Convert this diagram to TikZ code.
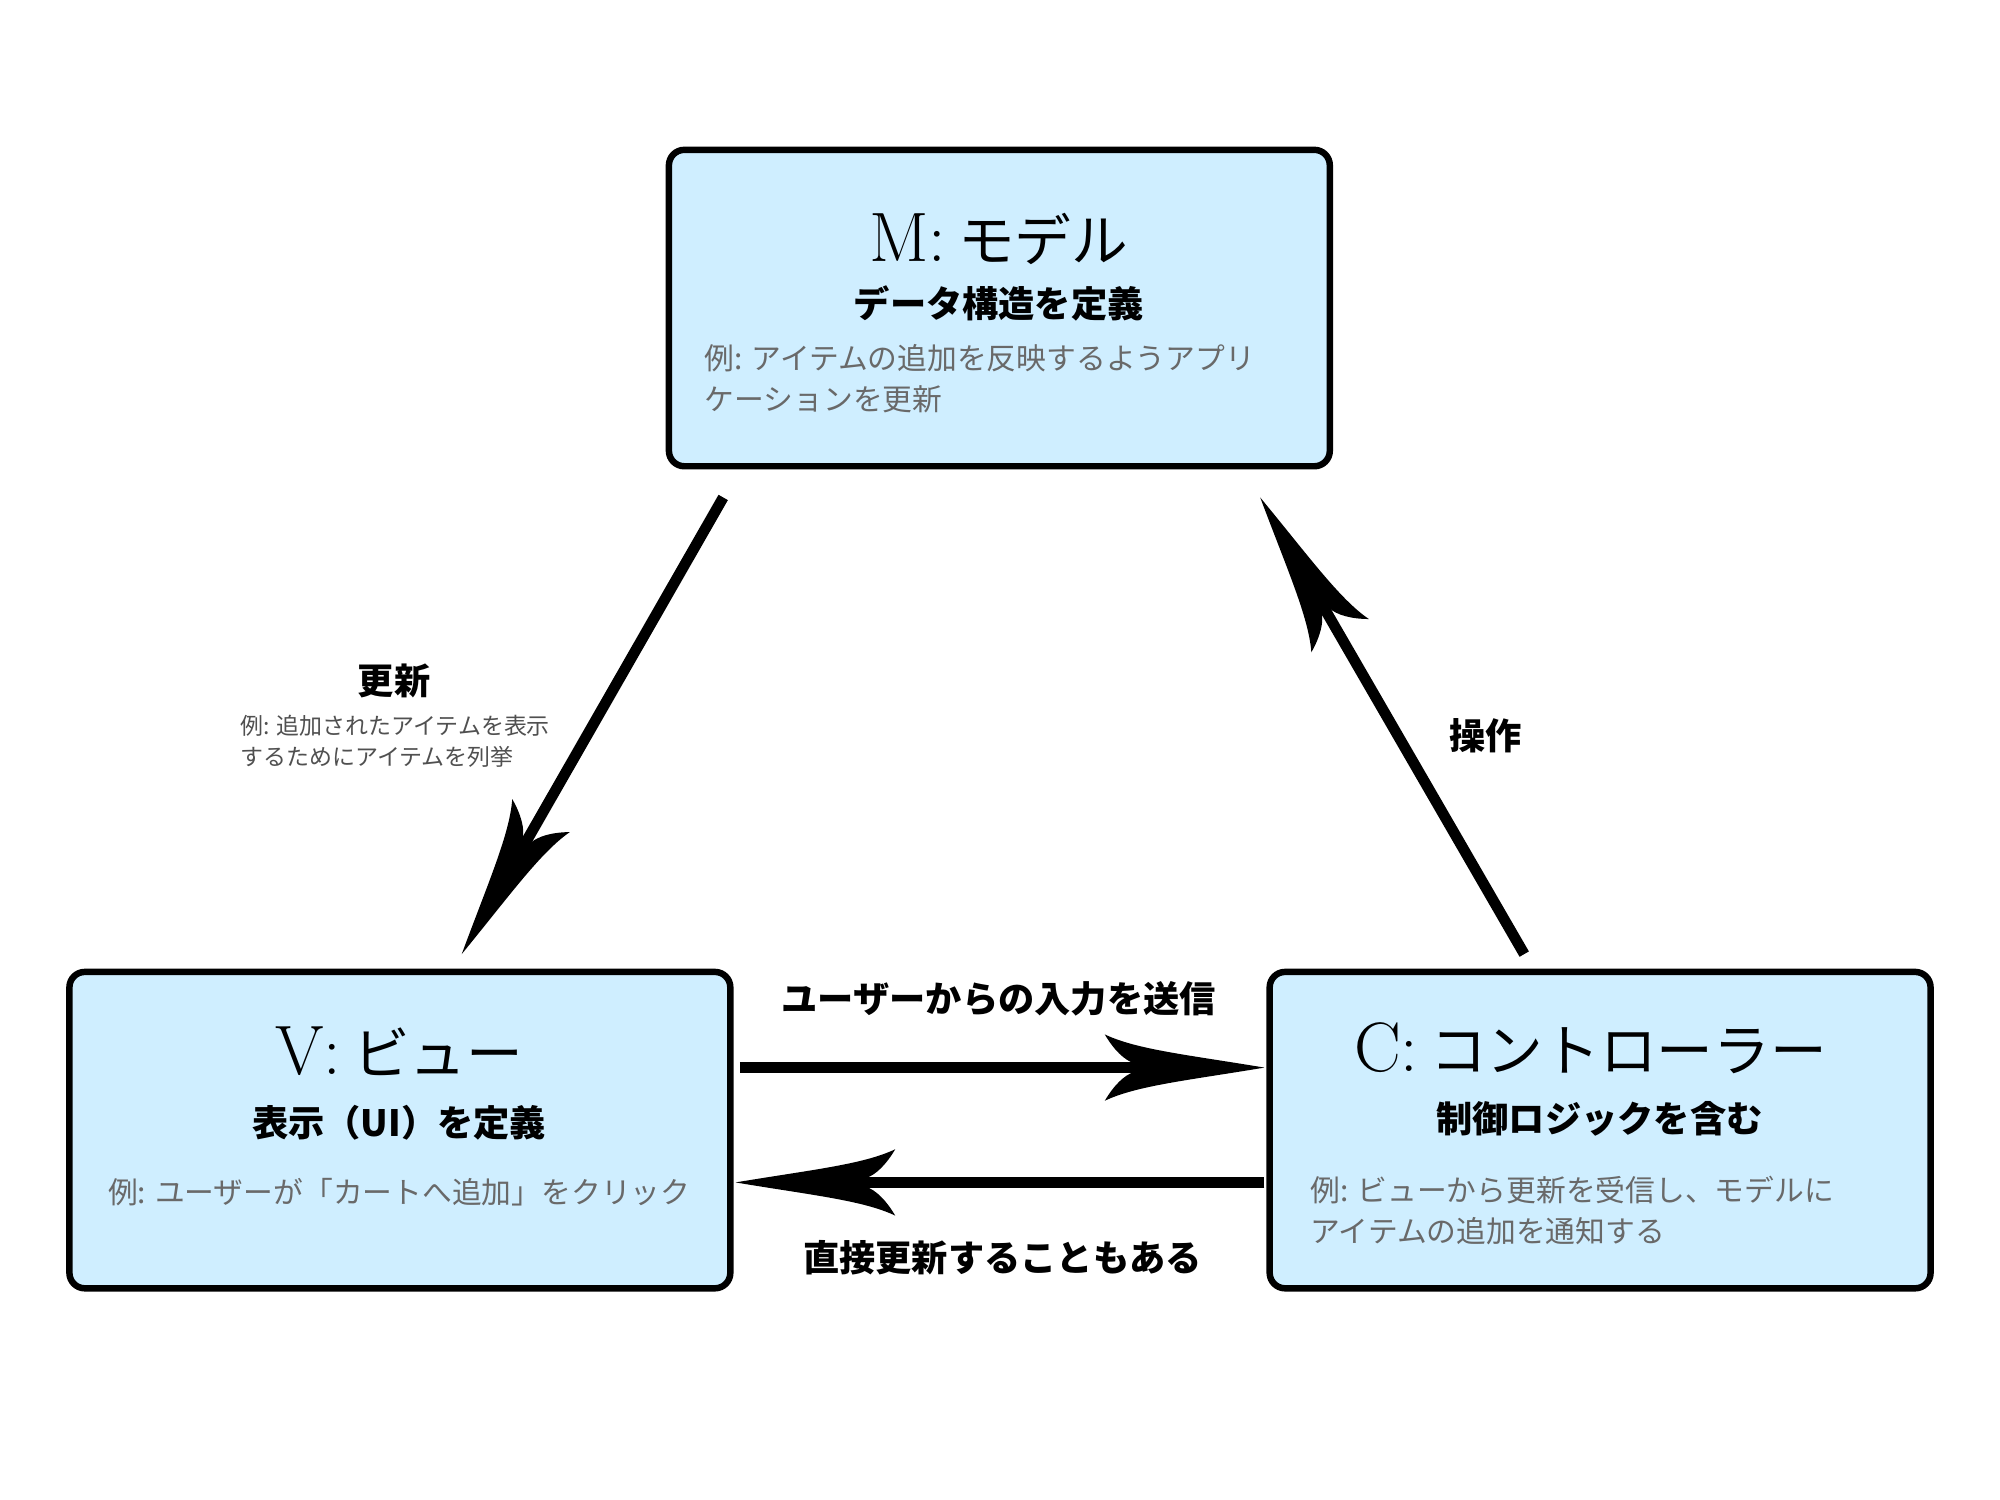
\documentclass[tikz,border=0pt]{standalone}
\usepackage{fontspec}
\newfontfamily\jp{Noto Sans CJK JP}
\usetikzlibrary{arrows.meta}
\definecolor{boxfill}{RGB}{207,238,255}
\definecolor{descgray}{RGB}{105,105,105}
\definecolor{smallgray}{RGB}{80,80,80}
\pgfdeclarearrow{
  name = MyBarb,
  setup code = {
    \pgfarrowssettipend{0pt}
    \pgfarrowssetbackend{-44.5pt}
    \pgfarrowssetlineend{-34pt}
    \pgfarrowsupperhullpoint{0pt}{0pt}
    \pgfarrowsupperhullpoint{-44.5pt}{9.25pt}
  },
  drawing code = {
    \pgfpathmoveto{\pgfpoint{0pt}{0pt}}
    \pgfpathcurveto{\pgfpoint{-21.3pt}{3.56pt}}{\pgfpoint{-35.6pt}{5pt}}{\pgfpoint{-44.5pt}{9.25pt}}
    \pgfpathcurveto{\pgfpoint{-42pt}{5pt}}{\pgfpoint{-39.1pt}{2.1pt}}{\pgfpoint{-36.3pt}{1.2pt}}
    \pgfpathlineto{\pgfpoint{-36.3pt}{-1.2pt}}
    \pgfpathcurveto{\pgfpoint{-39.1pt}{-2.1pt}}{\pgfpoint{-42pt}{-5pt}}{\pgfpoint{-44.5pt}{-9.25pt}}
    \pgfpathcurveto{\pgfpoint{-35.6pt}{-5pt}}{\pgfpoint{-21.3pt}{-3.56pt}}{\pgfpoint{0pt}{0pt}}
    \pgfpathclose
    \pgfusepathqfill
  }
}
\newcommand\titlelat[1]{{\fontsize{19.5}{22}\selectfont #1}}
\newcommand\titlejp[1]{{\jp\fontsize{15.8}{20}\selectfont #1}}
\begin{document}
\begin{tikzpicture}[x=0.0125cm,y=-0.0125cm,
  box/.style={draw=black, line width=1.8pt, fill=boxfill, rounded corners=4.3pt,
    inner sep=0pt, minimum width=6.475cm, minimum height=3.1cm},
  titletext/.style={inner sep=0pt},
  subtext/.style={inner sep=0pt, font=\jp\bfseries\fontsize{10.1}{12}\selectfont},
  desctext/.style={inner sep=0pt, text=descgray, align=left, font=\jp\fontsize{8.3}{11.4}\selectfont},
  edgebold/.style={inner sep=0pt, font=\jp\bfseries\fontsize{10.1}{12}\selectfont},
  edgesmall/.style={inner sep=0pt, text=smallgray, align=left, font=\jp\fontsize{6.4}{8.5}\selectfont},
  conn/.style={line width=3pt, -MyBarb}
]
\path[fill=white] (0,0) rectangle (1568,1176);
\useasboundingbox (0,0) rectangle (1568,1176);

% boxes
\node[box] (M) at (783.5,241.5) {};
\node[box] (V) at (313.5,886) {};
\node[box] (C) at (1254.5,886) {};

% M texts
\node[titletext] (Mt) at (783,187) {\titlelat{M:} \titlejp{モデル}};
\node[subtext] (Ms) at (783,238) {データ構造を定義};
\node[desctext, anchor=west] (Md) at (552,297) {例: アイテムの追加を反映するようアプリ\\ケーションを更新};

% V texts
\node[titletext] (Vt) at (313,824) {\titlelat{V:} \titlejp{ビュー}};
\node[subtext] (Vs) at (313,880) {表示（UI）を定義};
\node[desctext] (Vd) at (313,935) {例: ユーザーが「カートへ追加」をクリック};

% C texts
\node[titletext] (Ct) at (1247,822) {\titlelat{C:} \titlejp{コントローラー}};
\node[subtext] (Cs) at (1254,877) {制御ロジックを含む};
\node[desctext, anchor=west] (Cd) at (1027,949) {例: ビューから更新を受信し、モデルに\\アイテムの追加を通知する};

% connector end points
\coordinate (mvs) at (567,390);
\coordinate (mve) at (362,748);
\coordinate (cms) at (1195,748);
\coordinate (cme) at (988,390);

% connectors
\draw[conn] (mvs) -- (mve);
\draw[conn] (cms) -- (cme);
\draw[conn] ([xshift=0.0625cm,yshift=0.6125cm]V.east) -- ([xshift=-0.02cm,yshift=0.6125cm]C.west);
\draw[conn] ([xshift=-0.02cm,yshift=-0.5125cm]C.west) -- ([xshift=0.02cm,yshift=-0.5125cm]V.east);

% edge labels
\node[edgebold] (l1) at (309,534) {更新};
\node[edgesmall, anchor=west] (l1s) at (188,581) {例: 追加されたアイテムを表示\\するためにアイテムを列挙};
\node[edgebold] (l2) at (1165,577) {操作};
\node[edgebold] (l3) at (783,783) {ユーザーからの入力を送信};
\node[edgebold] (l4) at (786,986) {直接更新することもある};
\end{tikzpicture}
\end{document}
